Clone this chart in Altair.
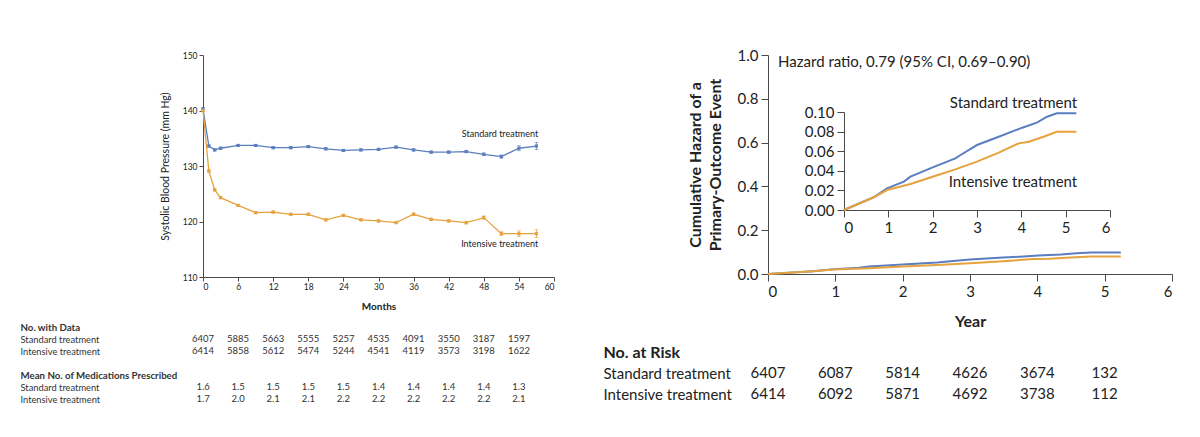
import altair as alt
import pandas as pd

FONT = "Lato"
BLUE = "#5b7ec1"
ORANGE = "#e6a23c"
AXIS = "#4a4a4a"
TXT = "#222222"

# ---------------- Left panel data ----------------
months = [0, 1, 2, 3, 6, 9, 12, 15, 18, 21, 24, 27, 30, 33, 36, 39, 42, 45, 48, 51, 54, 57]
std_sbp = [140.3, 133.6, 132.9, 133.2, 133.7, 133.7, 133.3, 133.3, 133.5, 133.1, 132.8,
           132.9, 133.0, 133.4, 132.9, 132.5, 132.5, 132.6, 132.1, 131.7, 133.2, 133.6]
int_sbp = [140.0, 129.1, 125.7, 124.3, 122.9, 121.6, 121.7, 121.3, 121.3, 120.3, 121.1,
           120.3, 120.1, 119.8, 121.3, 120.4, 120.1, 119.8, 120.7, 117.8, 117.8, 117.8]
std_err = [0.2, 0.2, 0.2, 0.2, 0.2, 0.2, 0.2, 0.2, 0.2, 0.2, 0.2,
           0.2, 0.2, 0.2, 0.2, 0.2, 0.2, 0.2, 0.25, 0.3, 0.45, 0.65]
int_err = [0.2, 0.2, 0.2, 0.2, 0.2, 0.2, 0.2, 0.2, 0.2, 0.2, 0.2,
           0.2, 0.2, 0.2, 0.25, 0.2, 0.2, 0.25, 0.3, 0.35, 0.5, 0.7]

table_months = [0, 6, 12, 18, 24, 30, 36, 42, 48, 54]
std_n = [6407, 5885, 5663, 5555, 5257, 4535, 4091, 3550, 3187, 1597]
int_n = [6414, 5858, 5612, 5474, 5244, 4541, 4119, 3573, 3198, 1622]
std_med = [1.6, 1.5, 1.5, 1.5, 1.5, 1.4, 1.4, 1.4, 1.4, 1.3]
int_med = [1.7, 2.0, 2.1, 2.1, 2.2, 2.2, 2.2, 2.2, 2.2, 2.1]

rows_left = ["h1", "s1", "i1", "gap", "h2", "s2", "i2"]
row_names_left = ["No. with Data", "Standard treatment", "Intensive treatment", "",
                  "Mean No. of Medications Prescribed", "Standard treatment", "Intensive treatment"]

# ---------------- Right panel data ----------------
std_years = [0, 0.67, 0.97, 1.35, 1.5, 2.0, 2.51, 2.63, 3.0, 3.49, 4.02, 4.35, 4.58, 4.8, 5.24]
std_haz = [0, 0.013, 0.022, 0.029, 0.034, 0.0435, 0.0527, 0.0561, 0.0663, 0.0748, 0.084,
           0.0891, 0.0952, 0.0986, 0.0986]
int_years = [0, 0.67, 0.97, 1.5, 2.0, 2.51, 3.0, 3.49, 3.94, 4.17, 4.5, 4.8, 5.24]
int_haz = [0, 0.013, 0.0204, 0.0265, 0.034, 0.0415, 0.0493, 0.0585, 0.068, 0.0697, 0.0748,
           0.0799, 0.0799]

risk_years = [0, 1, 2, 3, 4, 5]
risk_std = [6407, 6087, 5814, 4626, 3674, 132]
risk_int = [6414, 6092, 5871, 4692, 3738, 112]
rows_right = ["h", "s", "i"]
row_names_right = ["No. at Risk", "Standard treatment", "Intensive treatment"]

hr_label = "Hazard ratio, 0.79 (95% CI, 0.69\u20130.90)"

# ---------------- helpers ----------------
def label_expr(keys, names):
    expr = "''"
    for k, n in reversed(list(zip(keys, names))):
        expr = f"datum.value == '{k}' ? '{n}' : ({expr})"
    return expr

color = alt.Color("group:N", scale=alt.Scale(domain=["Standard", "Intensive"],
                                             range=[BLUE, ORANGE]), legend=None)

# ---------------- Left plot ----------------
n = len(months)
sbp = pd.DataFrame({
    "month": months * 2,
    "sbp": std_sbp + int_sbp,
    "err": std_err + int_err,
    "group": ["Standard"] * n + ["Intensive"] * n,
})
sbp["lo"] = sbp["sbp"] - sbp["err"]
sbp["hi"] = sbp["sbp"] + sbp["err"]

month_ticks = list(range(0, 61, 6))
xScaleL = alt.Scale(domain=[0, 60], nice=False)
yScaleL = alt.Scale(domain=[110, 150], nice=False, zero=False)
xAxisL = alt.Axis(values=month_ticks, tickCount=11, title="Months", labelFontSize=8.5,
                  titleFontSize=10, titleFontWeight="bold", tickSize=4, labelPadding=1,
                  titlePadding=11, labelOverlap=False)
yAxisL = alt.Axis(values=[110, 120, 130, 140, 150], title="Systolic Blood Pressure (mm Hg)",
                  labelFontSize=8.5, titleFontSize=10.5, titleFontWeight="normal",
                  tickSize=4, labelPadding=2, titlePadding=12)


def xl(field="month"):
    return alt.X(f"{field}:Q", scale=xScaleL, axis=xAxisL)


def yl(field):
    return alt.Y(f"{field}:Q", scale=yScaleL, axis=yAxisL)


baseL = alt.Chart(sbp)
lineL = baseL.mark_line(strokeWidth=1.3).encode(x=xl(), y=yl("sbp"), color=color)
errL = baseL.mark_rule(strokeWidth=0.8).encode(x=xl(), y=yl("lo"), y2="hi:Q", color=color)
capLo = baseL.mark_tick(orient="horizontal", size=4, thickness=0.8).encode(
    x=xl(), y=yl("lo"), color=color)
capHi = baseL.mark_tick(orient="horizontal", size=4, thickness=0.8).encode(
    x=xl(), y=yl("hi"), color=color)
ptsL = baseL.mark_point(shape="square", filled=True, size=10, opacity=1).encode(
    x=xl(), y=yl("sbp"), color=color)

txtStd = alt.Chart(pd.DataFrame({"t": ["Standard treatment"]})).mark_text(
    align="right", fontSize=9, color=TXT).encode(
    x=alt.datum(57.3, scale=xScaleL, axis=xAxisL),
    y=alt.datum(135.8, scale=yScaleL, axis=yAxisL), text="t:N")
txtInt = alt.Chart(pd.DataFrame({"t": ["Intensive treatment"]})).mark_text(
    align="right", fontSize=9, color=TXT).encode(
    x=alt.datum(57.3, scale=xScaleL, axis=xAxisL),
    y=alt.datum(116.0, scale=yScaleL, axis=yAxisL), text="t:N")

left_plot = alt.layer(lineL, errL, capLo, capHi, ptsL, txtStd, txtInt).properties(
    width=351, height=222)

# ---------------- Left table ----------------
recs = []
for i, m in enumerate(table_months):
    recs.append({"month": m, "row": "s1", "txt": str(std_n[i])})
    recs.append({"month": m, "row": "i1", "txt": str(int_n[i])})
    recs.append({"month": m, "row": "s2", "txt": f"{std_med[i]:.1f}"})
    recs.append({"month": m, "row": "i2", "txt": f"{int_med[i]:.1f}"})
tabL = pd.DataFrame(recs)

left_table = alt.Chart(tabL).mark_text(fontSize=9.5, color="#333333").encode(
    x=alt.X("month:Q", scale=alt.Scale(domain=[0, 60], nice=False), axis=None),
    y=alt.Y("row:N", scale=alt.Scale(domain=rows_left, type="point", padding=0),
            axis=alt.Axis(labelExpr=label_expr(rows_left, row_names_left), labelAlign="left",
                          labelPadding=183, ticks=False, domain=False, title=None,
                          labelColor="#333333",
                          labelFontSize={"condition": {"test": "datum.value == 'h1' || datum.value == 'h2'",
                                                       "value": 9.7}, "value": 9.3},
                          labelFontWeight={"condition": {"test": "datum.value == 'h1' || datum.value == 'h2'",
                                                         "value": "bold"}, "value": "normal"})),
    text="txt:N",
).properties(width=351, height=72)

# ---------------- Right plot ----------------
haz = pd.DataFrame({
    "year": std_years + int_years,
    "haz": std_haz + int_haz,
    "group": ["Standard"] * len(std_years) + ["Intensive"] * len(int_years),
})

xR = alt.X("year:Q", scale=alt.Scale(domain=[0, 6], nice=False),
           axis=alt.Axis(values=list(range(0, 7)), format="d", title="Year", labelFontSize=15,
                         titleFontSize=16, titleFontWeight="bold", tickSize=7, labelPadding=3,
                         titlePadding=14))
yR = alt.Y("haz:Q", scale=alt.Scale(domain=[0, 1], nice=False),
           axis=alt.Axis(values=[0, 0.2, 0.4, 0.6, 0.8, 1.0], format=".1f",
                         title=["Cumulative Hazard of a", "Primary-Outcome Event"],
                         labelFontSize=15, titleFontSize=16, titleFontWeight="bold",
                         tickSize=7, labelPadding=3, titlePadding=14, titleLineHeight=20))

mainLines = alt.Chart(haz).mark_line(strokeWidth=2).encode(x=xR, y=yR, color=color)
hrTxt = alt.Chart(pd.DataFrame({"t": [hr_label]})).mark_text(
    align="left", baseline="middle", fontSize=15, color=TXT).encode(
    x=alt.datum(0.15), y=alt.datum(0.968), text="t:N")
main_layer = alt.layer(mainLines, hrTxt)

xI = alt.X("year:Q", scale=alt.Scale(domain=[0, 6], range=[76, 342], nice=False),
           axis=alt.Axis(orient="bottom", offset=-64, values=list(range(0, 7)), format="d",
                         title=None, labelFontSize=15, tickSize=7, labelPadding=3))
yI = alt.Y("haz:Q", scale=alt.Scale(domain=[0, 0.1], range=[155, 57], nice=False),
           axis=alt.Axis(orient="left", offset=-76, values=[0, 0.02, 0.04, 0.06, 0.08, 0.10],
                         format=".2f", title=None, labelFontSize=15, tickSize=7, labelPadding=3))
insetLines = alt.Chart(haz).mark_line(strokeWidth=2).encode(x=xI, y=yI, color=color)
insStd = alt.Chart(pd.DataFrame({"t": ["Standard treatment"]})).mark_text(
    align="right", baseline="middle", fontSize=15, color=TXT).encode(
    x=alt.datum(5.26), y=alt.datum(0.109), text="t:N")
insInt = alt.Chart(pd.DataFrame({"t": ["Intensive treatment"]})).mark_text(
    align="right", baseline="middle", fontSize=15, color=TXT).encode(
    x=alt.datum(5.26), y=alt.datum(0.0286), text="t:N")
inset_layer = alt.layer(insetLines, insStd, insInt)

right_plot = alt.layer(main_layer, inset_layer).resolve_scale(
    x="independent", y="independent").properties(width=404, height=219)

# ---------------- Right table ----------------
recsR = []
for i, yv in enumerate(risk_years):
    recsR.append({"year": yv, "row": "s", "txt": str(risk_std[i])})
    recsR.append({"year": yv, "row": "i", "txt": str(risk_int[i])})
tabR = pd.DataFrame(recsR)

right_table = alt.Chart(tabR).mark_text(fontSize=15, color=TXT).encode(
    x=alt.X("year:Q", scale=alt.Scale(domain=[0, 6], nice=False), axis=None),
    y=alt.Y("row:N", scale=alt.Scale(domain=rows_right, type="point", padding=0),
            axis=alt.Axis(labelExpr=label_expr(rows_right, row_names_right), labelAlign="left",
                          labelPadding=165, ticks=False, domain=False, title=None,
                          labelColor=TXT,
                          labelFontSize={"condition": {"test": "datum.value == 'h'", "value": 16},
                                         "value": 15},
                          labelFontWeight={"condition": {"test": "datum.value == 'h'", "value": "bold"},
                                           "value": "normal"})),
    text="txt:N",
).properties(width=404, height=42)

left = alt.vconcat(left_plot, left_table, spacing=10)
right = alt.vconcat(right_plot, right_table, spacing=15)

chart = alt.hconcat(left, right, spacing=48).properties(
    padding={"left": 12, "top": 40, "right": 0, "bottom": 0}
).configure(font=FONT).configure_view(stroke=None).configure_axis(
    grid=False, domainColor=AXIS, tickColor=AXIS, labelColor=TXT, titleColor=TXT,
    labelFont=FONT, titleFont=FONT, domainWidth=1, tickWidth=1
).configure_text(font=FONT)

chart.save("out.html", embed_options={"renderer": "svg", "actions": False})
